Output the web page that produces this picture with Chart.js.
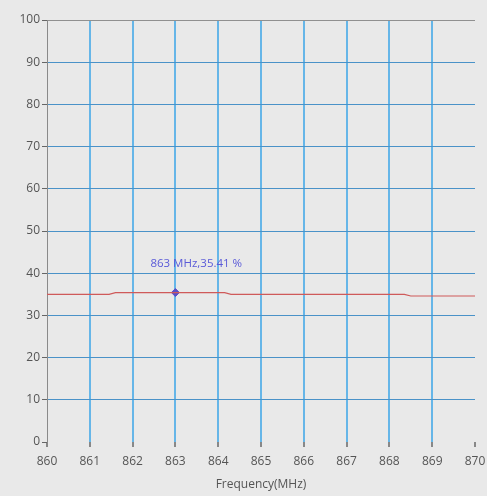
<!DOCTYPE html>
<html>
<head>
<meta charset="utf-8">
<script src="https://cdn.jsdelivr.net/npm/chart.js@4/dist/chart.umd.min.js"></script>
<style>
html,body{margin:0;padding:0;background:#e9e9e9;}
#wrap{width:487px;height:496px;position:relative;}
</style>
</head>
<body>
<div id="wrap"><canvas id="c" width="487" height="496"></canvas></div>
<script>
const freqs = [860, 861.45, 861.6, 864.15, 864.3, 868.35, 868.5, 870];
const values = [35.0, 35.0, 35.4, 35.4, 35.0, 35.0, 34.6, 34.6];
const markerFreq = [863];
const markerValue = [35.41];
const markerLabel = '863 MHz,35.41 %';
const xTicks = [860, 861, 862, 863, 864, 865, 866, 867, 868, 869, 870];
const yTicks = [0, 10, 20, 30, 40, 50, 60, 70, 80, 90, 100];

const labelPlugin = {
  id: 'markerLabel',
  afterDatasetsDraw(chart) {
    const ctx = chart.ctx;
    const xs = chart.scales.x, ys = chart.scales.y;
    const px = xs.getPixelForValue(markerFreq[0]);
    const py = ys.getPixelForValue(markerValue[0]);
    ctx.save();
    ctx.font = '11.5px "Open Sans", sans-serif';
    ctx.fillStyle = '#5a5ad8';
    ctx.textBaseline = 'middle';
    ctx.textAlign = 'left';
    ctx.fillText(markerLabel, px - 25, py - 29);
    ctx.restore();
  }
};
const bgPlugin = {
  id: 'bg',
  beforeDraw(chart) {
    const ctx = chart.ctx;
    ctx.save();
    ctx.fillStyle = '#e9e9e9';
    ctx.fillRect(0, 0, chart.width, chart.height);
    ctx.restore();
  }
};

const tickFont = {family: '"Open Sans", sans-serif', size: 12};

new Chart(document.getElementById('c'), {
  type: 'line',
  data: {
    datasets: [
      {
        data: freqs.map((f, i) => ({x: f, y: values[i]})),
        borderColor: '#cf5a5a',
        borderWidth: 1.2,
        pointRadius: 0,
        tension: 0
      },
      {
        data: markerFreq.map((f, i) => ({x: f, y: markerValue[i]})),
        showLine: false,
        pointStyle: 'rectRot',
        pointRadius: 4,
        backgroundColor: '#5a4fc8',
        borderColor: '#5a4fc8'
      }
    ]
  },
  options: {
    responsive: false,
    animation: false,
    layout: {padding: {top: 20, right: 12, left: 0, bottom: 0}},
    plugins: {legend: {display: false}, tooltip: {enabled: false}},
    scales: {
      x: {
        type: 'linear', min: 860, max: 870,
        afterBuildTicks: s => { s.ticks = xTicks.map(v => ({value: v})); },
        afterFit: s => { s.height = 54; s.paddingRight = 0; s.paddingLeft = 0; },
        border: {display: false},
        grid: {
          color: c => (c.tick && (c.tick.value === 860 || c.tick.value === 870)) ? 'rgba(0,0,0,0)' : '#66b6e8',
          lineWidth: 2,
          tickColor: '#888',
          tickLength: 5,
          drawTicks: true
        },
        ticks: {color: '#555', font: tickFont, padding: 7, maxRotation: 0},
        title: {display: true, text: 'Frequency(MHz)', color: '#555', font: tickFont, padding: {top: 0, bottom: 4}}
      },
      y: {
        min: 0, max: 100,
        afterBuildTicks: s => { s.ticks = yTicks.map(v => ({value: v})); },
        afterFit: s => { s.width = 47; },
        border: {display: true, color: '#8a8a8a', width: 1},
        grid: {
          color: c => c.tick && c.tick.value === 0 ? 'rgba(0,0,0,0)' : (c.tick && c.tick.value === 100 ? '#909090' : '#4a92c8'),
          lineWidth: 1,
          tickColor: '#666',
          tickLength: 5
        },
        ticks: {color: '#555', font: tickFont, padding: 2}
      }
    }
  },
  plugins: [bgPlugin, labelPlugin]
});
</script>
</body>
</html>
